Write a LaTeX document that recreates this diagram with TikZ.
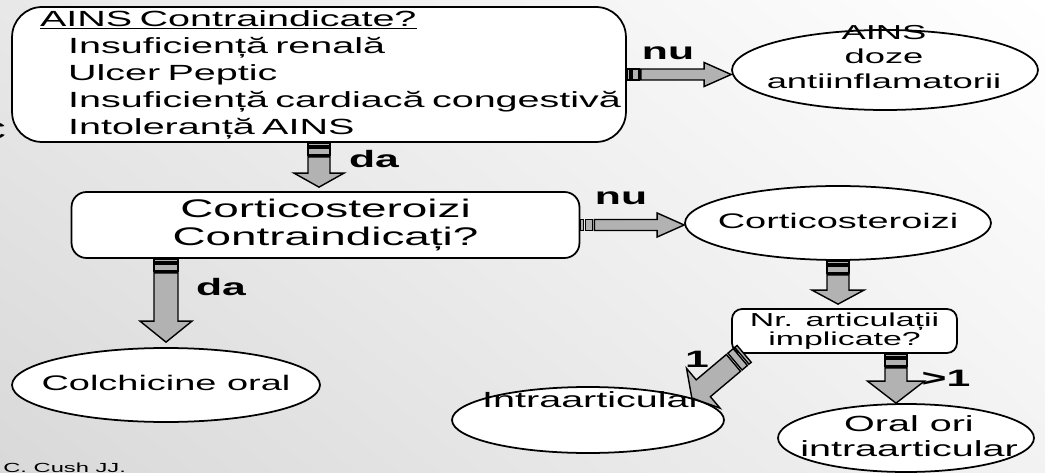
\documentclass[tikz,border=0pt]{standalone}
\usepackage{fontspec}
\setmainfont{Liberation Sans}
\newfontfamily\wideB[FakeStretch=1.8]{Liberation Sans}
\usetikzlibrary{shapes.geometric,shadings,calc}

\tikzset{
  box/.style={draw, line width=1pt, fill=white, rounded corners=#1, inner sep=0pt},
  oval/.style={draw, line width=1pt, fill=white, ellipse, inner sep=0pt},
  otext/.style={align=center, inner sep=0pt},
  lbl/.style={inner sep=0pt, font=\wideB\bfseries\fontsize{13.5}{15}\selectfont},
  arrowbody/.style={draw, line width=0.8pt, fill=black!30, line join=miter},
}

\newcommand\fatarrow[5]{%
  \foreach \ta/\tb in {0mm/0.6mm,1mm/2.4mm}{%
    \coordinate (fa-a) at ($(#1)!\ta!(#2)$);
    \coordinate (fa-b) at ($(#1)!\tb!(#2)$);
    \draw[arrowbody] ($(fa-a)!#3!90:(#2)$) -- ($(fa-b)!#3!90:(#2)$)
      -- ($(fa-b)!#3!-90:(#2)$) -- ($(fa-a)!#3!-90:(#2)$) -- cycle;
  }
  \coordinate (fa-t) at ($(#1)!2.8mm!(#2)$);
  \coordinate (fa-h) at ($(#2)!#5!(#1)$);
  \draw[arrowbody] ($(fa-t)!#3!90:(#2)$) -- ($(fa-h)!#3!-90:(fa-t)$)
    -- ($(fa-h)!#4!-90:(fa-t)$) -- (#2) -- ($(fa-h)!#4!90:(fa-t)$)
    -- ($(fa-h)!#3!90:(fa-t)$) -- ($(fa-t)!#3!-90:(#2)$) -- cycle;
}

\begin{document}
\begin{tikzpicture}[x=0.02cm,y=-0.02cm]
\useasboundingbox (0,0) rectangle (1045,473);
\clip (0,0) rectangle (1045,473);
\shade[upper left=black!9, upper right=white, lower left=black!15, lower right=black!5]
  (0,0) rectangle (1045,473);

\node[anchor=east, inner sep=0pt, font=\wideB\fontsize{14}{14}\selectfont] (cutc) at (7,131) {C};

\node[box=6mm, minimum width=122.8mm, minimum height=27mm, text width=122.8mm,
      inner xsep=0pt, align=left, font=\wideB\fontsize{12.5}{15.4}\selectfont]
  (ains-q) at (319,74.5)
  {\hspace*{5.6mm}\underline{AINS Contraindicate?}\\
   \hspace*{11.2mm}Insuficiență renală\\
   \hspace*{11.2mm}Ulcer Peptic\\
   \hspace*{11.2mm}\mbox{Insuficiență cardiacă congestivă}\\
   \hspace*{11.2mm}Intoleranță AINS};

\node[oval, minimum width=61.2mm, minimum height=16mm] (ains-d) at (885,70) {};
\node[otext, font=\wideB\fontsize{11.5}{14.2}\selectfont] (ains-dt) at (884,57)
  {AINS\\doze\\antiinflamatorii};

\node[box=3mm, minimum width=101.6mm, minimum height=13.2mm, align=center,
      font=\wideB\fontsize{14.5}{16}\selectfont]
  (cort-q) at (325.5,225) {Corticosteroizi\\Contraindicați?};

\node[oval, minimum width=61.2mm, minimum height=14.8mm] (cort) at (838,223) {};
\node[otext, font=\wideB\fontsize{12}{14}\selectfont] (cort-t) at (838,221) {Corticosteroizi};

\node[box=2mm, minimum width=45mm, minimum height=8.8mm, align=center,
      font=\wideB\fontsize{10.7}{9.8}\selectfont]
  (joints) at (844.5,331) {Nr. articulații\\implicate?};

\node[oval, minimum width=61.6mm, minimum height=14.8mm] (colch) at (166,385) {};
\node[otext, font=\wideB\fontsize{12}{14}\selectfont] (colch-t) at (166,383) {Colchicine oral};

\node[oval, minimum width=54.4mm, minimum height=13.2mm] (intra) at (588,420) {};
\node[otext, font=\wideB\fontsize{12.5}{14}\selectfont] (intra-t) at (592,400) {Intraarticular};

\node[oval, minimum width=51.2mm, minimum height=13.6mm] (oral) at (906,438) {};
\node[otext, font=\wideB\fontsize{12.5}{14.2}\selectfont] (oral-t) at (909,436)
  {Oral ori\\intraarticular};

\node[lbl] (nu1) at (668,53) {nu};
\node[lbl] (nu2) at (621,198) {nu};
\node[lbl] (da1) at (374,159) {da};
\node[lbl] (da2) at (221,287) {da};
\node[lbl] (one) at (697,359) {1};
\node[lbl] (more) at (946,378) {>1};

\node[anchor=base west, inner sep=0pt, font=\wideB\fontsize{7.5}{9}\selectfont]
  (cite) at (3,472) {C. Cush JJ.};

\coordinate (nu1-e) at (ains-q.east -| ains-d.west);
\coordinate (da1-e) at ($(ains-q.south |- cort-q.north)+(0,-4)$);
\coordinate (nu2-e) at (cort-q.east -| cort.west);
\coordinate (da2-s) at (colch.north |- cort-q.south);
\coordinate (da2-e) at ($(colch.north)+(0,-5)$);
\coordinate (c3-e) at ($(cort.south |- joints.north)+(0,-4)$);
\coordinate (one-s) at ($(joints.south west)+(13,0)$);
\coordinate (more-s) at ($(joints.south)+(51.5,0)$);
\coordinate (more-e) at (more-s |- oral.north);

\fatarrow{ains-q.east}{nu1-e}{1.1mm}{2.4mm}{5.4mm}
\fatarrow{ains-q.south}{da1-e}{2.2mm}{5mm}{2.8mm}
\fatarrow{cort-q.east}{nu2-e}{1.1mm}{2.4mm}{5.4mm}
\fatarrow{da2-s}{da2-e}{2.4mm}{5.2mm}{4.2mm}
\fatarrow{cort.south}{c3-e}{2.2mm}{5.2mm}{2.8mm}
\fatarrow{one-s}{intra.12}{2.2mm}{5.2mm}{3mm}
\fatarrow{more-s}{more-e}{2.2mm}{5.7mm}{4.4mm}
\end{tikzpicture}
\end{document}
